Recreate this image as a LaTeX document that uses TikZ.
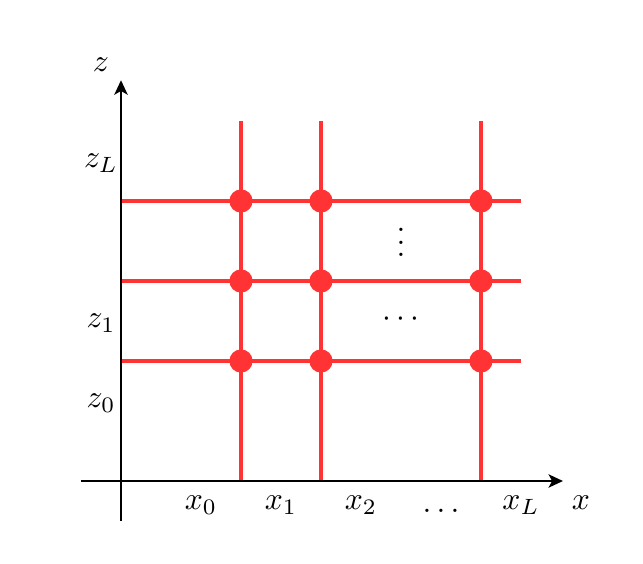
\documentclass[tikz,border=0pt]{standalone}
\usetikzlibrary{arrows.meta}
\definecolor{gridred}{RGB}{255,51,51}
\begin{document}
\begin{tikzpicture}[
  lbl/.style={scale=2.25, inner sep=0pt},
  axis/.style={line width=2pt, -{Stealth[length=3.6mm,width=3.3mm,inset=0.9mm]}},
  gridline/.style={gridred, line width=2.7pt},
  gdot/.style={circle, fill=gridred, inner sep=0pt, minimum size=0.58cm}
]
\useasboundingbox (-3.025,-2.05) rectangle (13.05,12.025);
% grid coordinates
\foreach \i/\x in {a/3,b/5,c/9} {
  \coordinate (v\i b) at (\x,0);
  \coordinate (v\i t) at (\x,9);
}
\foreach \j/\y in {p/3,q/5,r/7} {
  \coordinate (h\j l) at (0,\y);
  \coordinate (h\j r) at (10,\y);
}
\foreach \i in {a,b,c} \draw[gridline] (v\i b) -- (v\i t);
\foreach \j in {p,q,r} \draw[gridline] (h\j l) -- (h\j r);
\foreach \i/\x in {a/3,b/5,c/9}
  \foreach \j/\y in {p/3,q/5,r/7}
    \node[gdot] (d\i\j) at (\x,\y) {};
% axes
\coordinate (xs) at (-1,0);
\coordinate (xe) at (11.05,0);
\coordinate (zs) at (0,-1);
\coordinate (ze) at (0,10.02);
\draw[axis] (xs) -- (xe);
\draw[axis] (zs) -- (ze);
% labels
\node[lbl] (lx) at (11.5,-0.55) {$x$};
\node[lbl] (lz) at (-0.5,10.42) {$z$};
\node[lbl] (x0) at (2,-0.6) {$x_0$};
\node[lbl] (x1) at (4,-0.6) {$x_1$};
\node[lbl] (x2) at (6,-0.6) {$x_2$};
\node[lbl, anchor=base] (xd) at (8,-0.78) {$\dots$};
\node[lbl] (xL) at (10,-0.6) {$x_L$};
\node[lbl] (zL) at (-0.5,7.95) {$z_L$};
\node[lbl] (z1) at (-0.5,3.95) {$z_1$};
\node[lbl] (z0) at (-0.5,1.95) {$z_0$};
\node[lbl] (vd) at (7,6.2) {$\vdots$};
\node[lbl] (cd) at (7,4.05) {$\cdots$};
\end{tikzpicture}
\end{document}
